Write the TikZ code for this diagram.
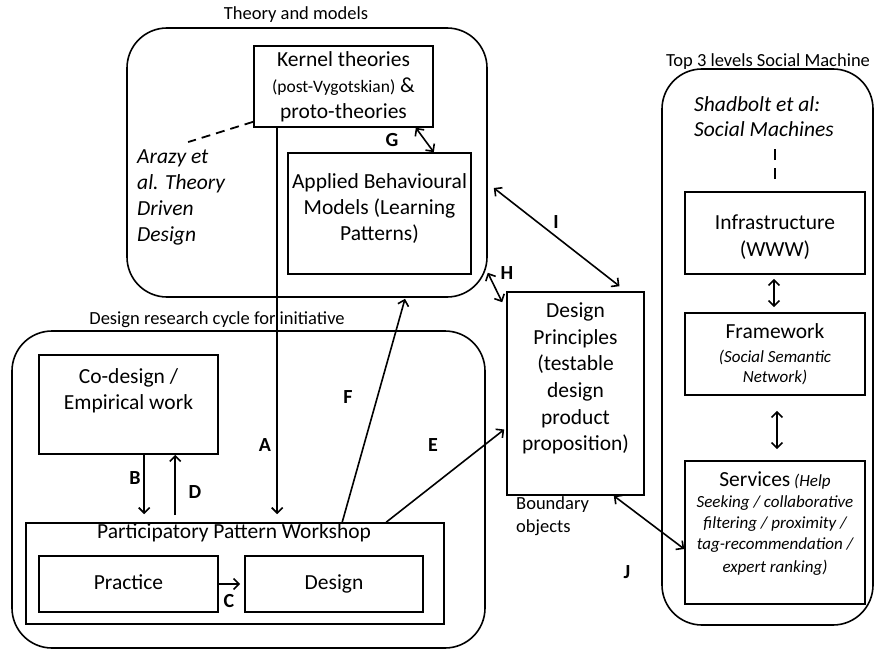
\documentclass[tikz,border=0pt]{standalone}
\usepackage{fontspec}
\setmainfont{Carlito}
\usetikzlibrary{arrows.meta,positioning}

\tikzset{
  box/.style={draw, line width=1.6pt, inner sep=0pt},
  region/.style={draw, line width=1.6pt, rounded corners=40pt, inner sep=0pt},
  txt/.style={align=center, inner sep=0pt, font=\fontsize{21.5}{26}\selectfont},
  smalltxt/.style={inner sep=0pt, font=\fontsize{18.5}{23}\selectfont},
  letter/.style={inner sep=0pt, font=\fontsize{20}{20}\selectfont\bfseries},
  link/.style={line width=1.6pt, >={Straight Barb[length=5.5pt,width=11pt]}},
}

\begin{document}
\begin{tikzpicture}[x=1pt,y=-1pt]
\useasboundingbox (0,0) rectangle (874,650);

\node[region, minimum width=360, minimum height=269] (theory) at (307,162.5) {};
\node[region, minimum width=473, minimum height=317] (cycle) at (248.5,489.5) {};
\node[region, minimum width=211, minimum height=556] (social) at (767.5,347) {};

\node[smalltxt] at (296,15) {Theory and models};
\node[smalltxt] at (217,320) {Design research cycle for initiative};
\node[smalltxt] at (768,62) {Top 3 levels Social Machine};

\node[box, txt, minimum width=179, minimum height=81] (kernel) at (343.5,86.5)
  {Kernel theories\\{\fontsize{17.5}{20}\selectfont (post-Vygotskian)} \&\\proto-theories};
\node[box, minimum width=183, minimum height=121] (applied) at (379.5,213.5) {};
\node[txt] at (379.5,208.5) {Applied Behavioural\\Models (Learning\\Patterns)};
\node[txt, align=left, anchor=west, font=\fontsize{21.5}{26}\selectfont\itshape] (arazy) at (137,197)
  {Arazy et\\al. Theory\\Driven\\Design};

\node[box, minimum width=179, minimum height=99] (codesign) at (128.5,404.5) {};
\node[txt] at (128.5,391) {Co-design /\\Empirical work};
\node[box, minimum width=418, minimum height=101] (workshop) at (235,573.5) {};
\node[txt] at (234,533) {Participatory Pattern Workshop};
\node[box, txt, text height=15pt, text depth=5pt, minimum width=179, minimum height=56] (practice) at (128.5,584) {Practice};
\node[box, txt, text height=15pt, text depth=5pt, minimum width=178, minimum height=56] (designbox) at (334,584) {Design};

\node[box, minimum width=137, minimum height=203] (principles) at (575.5,393.5) {};
\node[txt, font=\fontsize{21.5}{26.6}\selectfont] at (575.5,378.5)
  {Design\\Principles\\(testable\\design\\product\\proposition)};
\node[smalltxt, align=left, anchor=west] at (516,516.5) {Boundary\\objects};

\node[txt, align=left, anchor=west, font=\fontsize{21.5}{25}\selectfont\itshape] (shadbolt) at (694,116.5)
  {Shadbolt et al:\\Social Machines};
\node[box, minimum width=180, minimum height=82] (infra) at (775,233) {};
\node[txt, font=\fontsize{21.5}{27}\selectfont] at (775,237.5) {Infrastructure\\(WWW)};
\node[box, txt, minimum width=180, minimum height=82] (framework) at (775,354)
  {Framework\\[-2pt]{\fontsize{17}{20}\selectfont\itshape (Social Semantic}\\[-6pt]{\fontsize{17}{20}\selectfont\itshape Network)}};
\node[box, minimum width=180, minimum height=143] (services) at (775,532.5) {};
\node[txt, font=\fontsize{17}{21}\selectfont\itshape] at (775,523.5)
  {{\upshape\fontsize{21.5}{21}\selectfont Services} (Help\\Seeking / collaborative\\filtering / proximity /\\tag-recommendation /\\[2pt]expert ranking)};

\draw[line width=1.8pt, dash pattern=on 9pt off 6pt] ([yshift=6]kernel.south west) -- ([yshift=7,xshift=7]arazy.north);
\draw[line width=1.8pt, dash pattern=on 11pt off 8pt] ([yshift=12]infra.north) -- ([yshift=42]infra.north);

\draw[link,->] ([xshift=24]kernel.south west) -- ([xshift=24,yshift=8]kernel.south west |- workshop.north);
\draw[link,->] ([xshift=106]codesign.south west) -- ([xshift=106,yshift=8]codesign.south west |- workshop.north);
\draw[link,->] ([xshift=137,yshift=7]codesign.south west |- workshop.north) -- ([xshift=137]codesign.south west);
\draw[link,->] (practice.east) -- ([xshift=-4]designbox.west);
\draw[link,->] ([xshift=317]workshop.north west) -- ([xshift=98,yshift=-1]theory.south);
\draw[link,->] ([xshift=361]workshop.north west) -- ([xshift=-2,yshift=-36]principles.west);
\draw[link,<->] ([xshift=-18]kernel.south east) -- ([xshift=-38]applied.north east);
\draw[link,<->] ([yshift=25]theory.south east) -- ([xshift=-4,yshift=-11]principles.north west);
\draw[link,<->] ([xshift=6,yshift=-25.5]theory.east) -- ([xshift=44,yshift=5]principles.north);
\draw[link,<->] ([xshift=-31]principles.south east) -- ([yshift=-16.5]services.west);
\draw[link,<->] ([xshift=-1,yshift=-4]infra.south) -- ([xshift=-1,yshift=5]framework.north);
\draw[link,<->] ([xshift=2,yshift=-15]framework.south) -- ([xshift=2,yshift=11]services.north);

\node[letter] at (265,445) {A};
\node[letter] at (135,478) {B};
\node[letter] at (229,601) {C};
\node[letter] at (195,492) {D};
\node[letter] at (433,445) {E};
\node[letter] at (348,397) {F};
\node[letter] at (392,140) {G};
\node[letter] at (507,273) {H};
\node[letter] at (556,222) {I};
\node[letter] at (627,572) {J};
\end{tikzpicture}
\end{document}
